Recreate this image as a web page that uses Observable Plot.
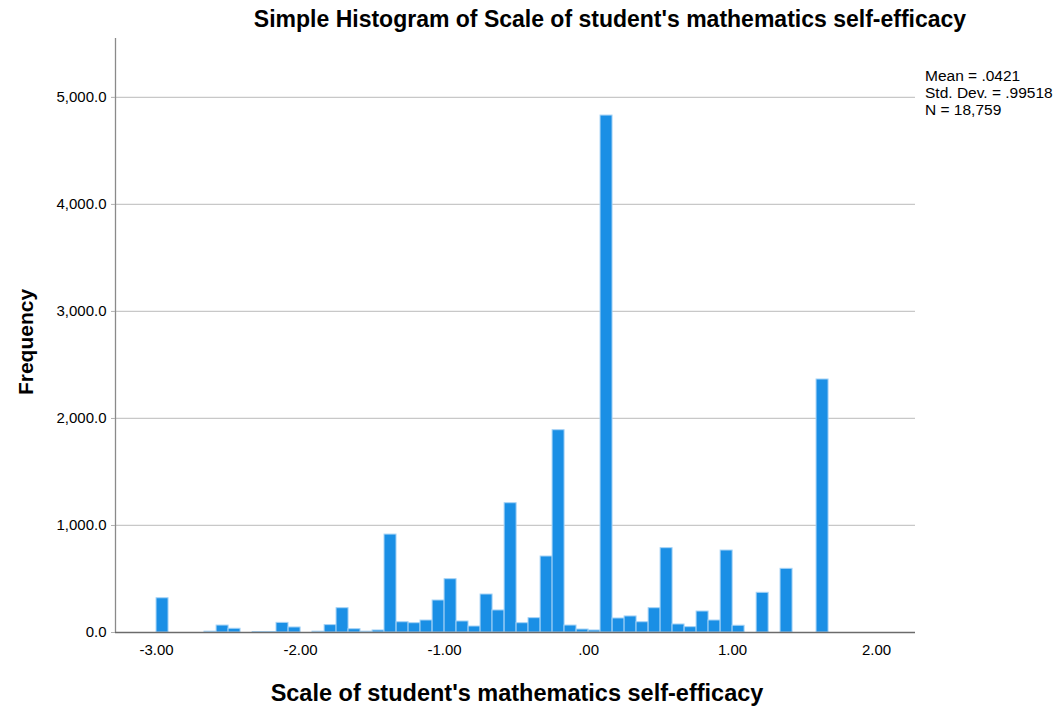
<!DOCTYPE html>
<html>
<head>
<meta charset="utf-8">
<script src="https://cdn.jsdelivr.net/npm/d3@7"></script>
<script src="https://cdn.jsdelivr.net/npm/@observablehq/plot@0.6"></script>
<style>
  html, body { margin: 0; padding: 0; background: #fff; }
  #chart { width: 1060px; height: 708px; }
</style>
</head>
<body>
<div id="chart"></div>
<script>
// ---- data ----
const binStart = [-3.000, -2.667, -2.583, -2.500, -2.333, -2.250, -2.167, -2.083, -1.917, -1.833,
  -1.750, -1.667, -1.583, -1.500, -1.417, -1.333, -1.250, -1.167, -1.083, -1.000,
  -0.917, -0.833, -0.750, -0.667, -0.583, -0.500, -0.417, -0.333, -0.250, -0.167,
  -0.083, 0.000, 0.083, 0.167, 0.250, 0.333, 0.417, 0.500, 0.583, 0.667,
  0.750, 0.833, 0.917, 1.000, 1.167, 1.333, 1.583];
const binCount = [320, 8, 65, 35, 4, 5, 90, 47, 8, 69,
  227, 31, 8, 19, 915, 96, 87, 112, 299, 498,
  103, 56, 355, 206, 1208, 87, 134, 710, 1890, 65,
  28, 19, 4830, 131, 150, 96, 227, 788, 75, 50,
  196, 112, 766, 63, 371, 595, 2364];
const binWidth = 1 / 12;
const xTickValues = [-3, -2, -1, 0, 1, 2];
const xTickLabels = ["-3.00", "-2.00", "-1.00", ".00", "1.00", "2.00"];
const yTickValues = [0, 1000, 2000, 3000, 4000, 5000];
const yTickLabels = ["0.0", "1,000.0", "2,000.0", "3,000.0", "4,000.0", "5,000.0"];
const titleText = "Simple Histogram of Scale of student's mathematics self-efficacy";
const xLabelText = "Scale of student's mathematics self-efficacy";
const yLabelText = "Frequency";
const statsLines = ["Mean = .0421", "Std. Dev. = .99518", "N = 18,759"];

const bins = binStart.map((x0, i) => ({x0, x1: x0 + binWidth, count: binCount[i]}));
const xDomain = [-3.285, 2.27];
const yDomain = [0, 5550];

const font = "'Liberation Sans', Arial, sans-serif";

const svg = Plot.plot({
  width: 1060,
  height: 708,
  marginLeft: 115,
  marginRight: 145,
  marginTop: 38,
  marginBottom: 76,
  style: {fontFamily: font, fontSize: "15px", background: "#fff", color: "#000"},
  x: {domain: xDomain},
  y: {domain: yDomain},
  marks: [
    Plot.ruleY(yTickValues.filter(v => v > 0), {stroke: "#c8c8c8", strokeWidth: 1.3}),
    Plot.rect(bins, {x1: "x0", x2: "x1", y1: 0, y2: "count", fill: "#1a8fe5", stroke: "#a6d3f6", strokeWidth: 1}),
    Plot.ruleX([xDomain[0]], {stroke: "#8a8a8a", strokeWidth: 1.3}),
    Plot.ruleY([0], {stroke: "#6b6b6b", strokeWidth: 1.6}),
    Plot.axisY({ticks: yTickValues, tickFormat: (d, i) => yTickLabels[i], tickSize: 4, stroke: "#b0b0b0", tickPadding: 5, fontSize: 15, label: null}),
    Plot.axisX({ticks: xTickValues, tickFormat: (d, i) => xTickLabels[i], tickSize: 0, tickPadding: 12, fontSize: 15, label: null})
  ]
});

const s = d3.select(svg);
s.selectAll("text").style("font-size", "15px");
s.append("text").attr("x", 610).attr("y", 27).attr("text-anchor", "middle")
  .style("font-size", "23px").attr("font-weight", "bold").attr("font-family", font).attr("fill", "#000")
  .text(titleText);
s.append("text").attr("x", 517).attr("y", 701).attr("text-anchor", "middle")
  .style("font-size", "23.5px").attr("font-weight", "bold").attr("font-family", font).attr("fill", "#000")
  .text(xLabelText);
s.append("text").attr("transform", "translate(33,342) rotate(-90)").attr("text-anchor", "middle")
  .style("font-size", "21px").attr("font-weight", "bold").attr("font-family", font).attr("fill", "#000")
  .text(yLabelText);
statsLines.forEach((t, i) => {
  s.append("text").attr("x", 925).attr("y", 81 + i * 17).attr("text-anchor", "start")
    .style("font-size", "15.5px").attr("font-family", font).attr("fill", "#000")
    .text(t);
});

document.getElementById("chart").appendChild(svg);
</script>
</body>
</html>
